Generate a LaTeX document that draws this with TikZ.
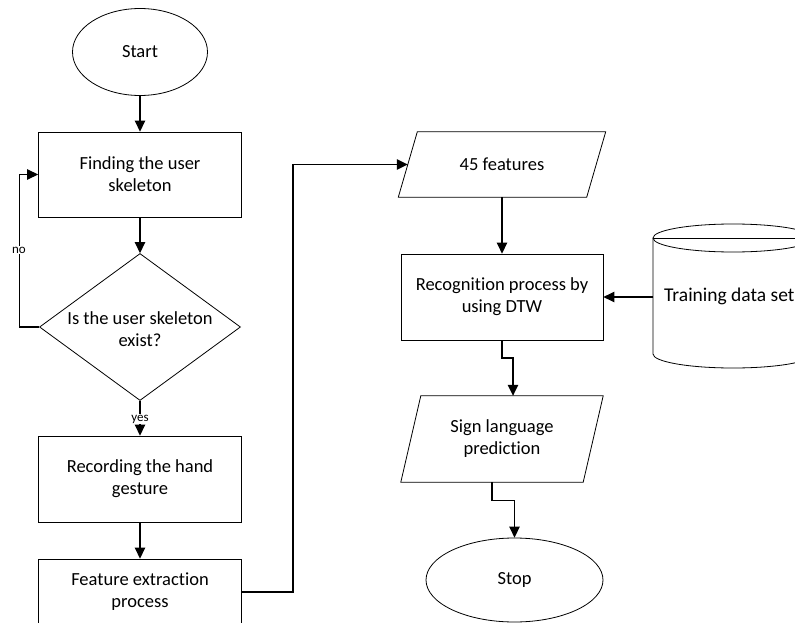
\documentclass[tikz,border=0pt]{standalone}
\usepackage{fontspec}
\setmainfont[Ligatures=NoCommon]{Carlito}
\usetikzlibrary{shapes.geometric,arrows.meta}
\begin{document}
\begin{tikzpicture}[x=1pt,y=-1pt,
  every node/.style={font=\fontsize{18.5}{22}\selectfont, align=center, inner sep=0pt},
  box/.style={draw, line width=0.8pt, minimum width=203pt, minimum height=86pt},
  term/.style={draw, ellipse, line width=0.8pt},
  flow/.style={line width=1.2pt, -{Triangle[length=11pt,width=10.5pt]}},
  small/.style={font=\fontsize{13}{14}\selectfont, fill=white, inner sep=1pt},
  shp/.style={line width=0.8pt}]
\useasboundingbox (0,0) rectangle (795,623);
\clip (0,0) rectangle (795,623);

% terminals and boxes
\node[term, minimum width=135pt, minimum height=87pt] (start) at (140,52) {Start};
\node[box, minimum height=85pt] (find) at (140,174.5) {Finding the user\\skeleton};
\node[draw, diamond, shp, minimum width=201pt, minimum height=147pt] (dec) at (140,327) {};
\node (dectext) at (140,329) {Is the user skeleton\\exist?};
\node[box] (rec) at (140,479) {Recording the hand\\gesture};
\node[box, minimum height=66pt] (feat) at (140,592) {Feature extraction\\process};

\node[minimum width=188pt, minimum height=65pt] (f45) at (502,164.5) {45 features};
\draw[shp] ([xshift=-9.5pt]f45.south west) -- ([xshift=9.5pt]f45.north west)
  -- ([xshift=9.5pt]f45.north east) -- ([xshift=-9.5pt]f45.south east) -- cycle;

\node[box, minimum width=202pt] (recog) at (502,297) {Recognition process by\\using DTW};

\node[minimum width=182pt, minimum height=86pt] (sign) at (502,439) {Sign language\\prediction};
\draw[shp] ([xshift=-10pt]sign.south west) -- ([xshift=10pt]sign.north west)
  -- ([xshift=10pt]sign.north east) -- ([xshift=-10pt]sign.south east) -- cycle;

\node[term, minimum width=177pt, minimum height=84pt] (stop) at (514.5,580) {Stop};

% training data set cylinder
\draw[shp, fill=white] (653,238) -- (653,354)
  arc[start angle=180, end angle=360, x radius=80pt, y radius=14pt]
  -- (813,238);
\draw[shp] (733,238) ellipse [x radius=80pt, y radius=14pt];
\draw[shp] (653,238) -- (813,238);
\node[anchor=west, font=\fontsize{19.5}{22}\selectfont] (train) at (664,296) {Training data set};
\coordinate (trainw) at (653,297);

% connectors
\draw[flow] (start.south) -- (find.north);
\draw[flow] (find.south) -- (dec.north);
\draw[flow] (dec.west) -- ++(-20,0) |- (find.west);
\node[small] (no) at (19,250) {no};
\draw[flow] (dec.south) -- (rec.north);
\node[small] (yes) at (140,419) {yes};
\draw[flow] (rec.south) -- (feat.north);
\draw[flow] (feat.east) -- (293,592) |- (f45.west);
\draw[flow] (f45.south) -- (recog.north);
\draw[flow] (trainw) -- (recog.east);
\draw[flow] (recog.south) -- ++(0,17.5) -| ([xshift=11pt]sign.north);
\draw[flow] ([xshift=-10pt]sign.south) -- ++(0,18.5) -| (stop.north);
\end{tikzpicture}
\end{document}
